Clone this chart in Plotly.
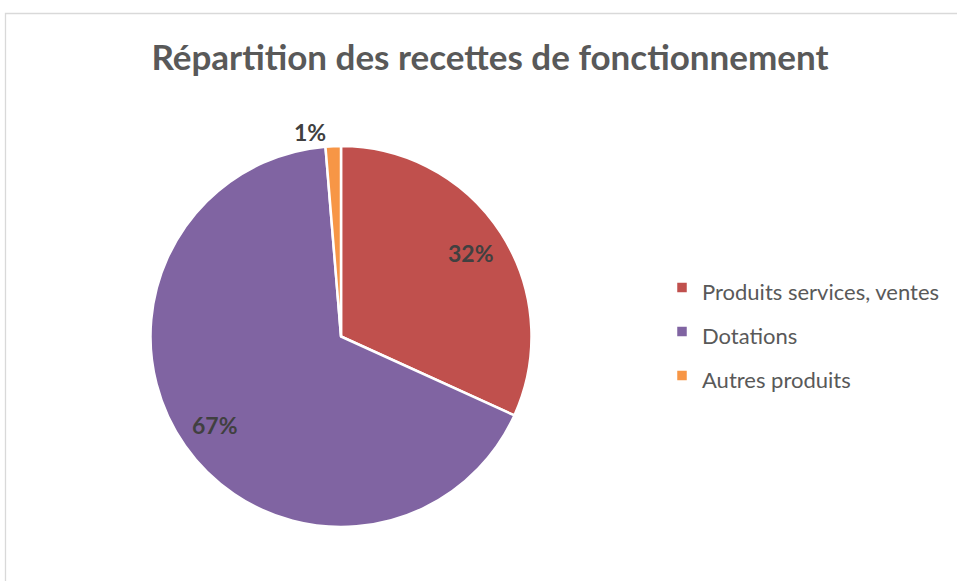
import plotly.graph_objects as go

labels = ["Produits services, ventes", "Dotations", "Autres produits"]
values = [31.8, 66.9, 1.3]
colors = ["#C0504D", "#8064A2", "#F79646"]
title_text = "Répartition des recettes de fonctionnement"

W, H = 957, 581
cx, cy, r = 341, 336.5, 190.5
dom = dict(x=[(cx - r) / W, (cx + r) / W], y=[(H - cy - r) / H, (H - cy + r) / H])
lbl_font = dict(family="Lato", size=23, color="#404040", weight="bold")

legend_labels = [f"<span style='font-size:22px'>{l}</span>" for l in labels]

fig = go.Figure()
# solid pie (slices + legend)
fig.add_trace(go.Pie(
    labels=legend_labels,
    values=values,
    sort=False,
    direction="clockwise",
    rotation=0,
    marker=dict(colors=colors, line=dict(color="white", width=2.5)),
    textinfo="none",
    domain=dom,
    hoverinfo="label+percent",
))
# transparent ring used only to position the percentage labels further out
fig.add_trace(go.Pie(
    labels=legend_labels,
    values=values,
    sort=False,
    direction="clockwise",
    rotation=0,
    hole=0.62,
    marker=dict(colors=["rgba(0,0,0,0)"] * len(values), line=dict(width=0)),
    texttemplate="%{percent:.0%}",
    textposition=["inside", "inside", "outside"],
    insidetextorientation="horizontal",
    textfont=lbl_font,
    insidetextfont=lbl_font,
    outsidetextfont=lbl_font,
    domain=dom,
    showlegend=False,
    hoverinfo="skip",
))

fig.update_layout(
    width=W, height=H,
    margin=dict(l=0, r=0, t=0, b=0),
    paper_bgcolor="white",
    plot_bgcolor="white",
    title=dict(text=title_text, x=0.512, xanchor="center", y=1 - 58 / H, yanchor="middle",
               font=dict(family="Lato", size=35, color="#595959", weight="bold")),
    legend=dict(x=662 / W, xanchor="left", y=1 - 331.5 / H, yanchor="middle",
                font=dict(family="Lato", size=31.5, color="#595959"),
                itemclick=False, itemdoubleclick=False),
    showlegend=True,
    shapes=[dict(type="rect", xref="paper", yref="paper",
                 x0=5.5 / W, x1=1.02, y0=-0.05, y1=1 - 13.5 / H,
                 line=dict(color="#D9D9D9", width=1.3), fillcolor="rgba(0,0,0,0)", layer="below")],
)

fig.write_html("out.html", config={"displayModeBar": False},
               post_script="document.body.style.margin='0';document.body.style.overflow='hidden';")
